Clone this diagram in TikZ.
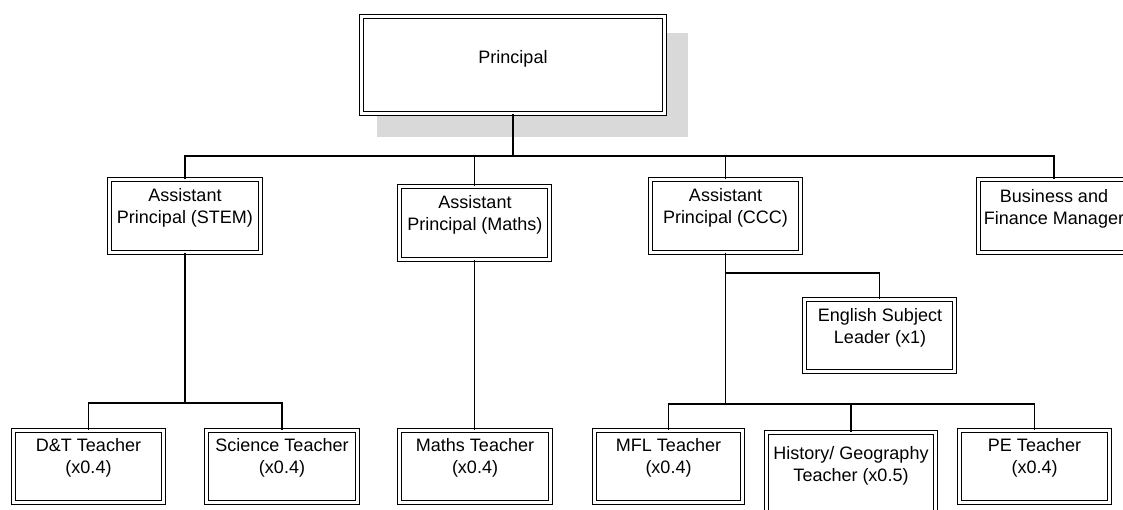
\documentclass[tikz,border=0pt]{standalone}
\usepackage{fontspec}
\setmainfont{Liberation Sans}
\begin{document}
\begin{tikzpicture}[x=1pt,y=-1pt,
  box/.style={draw=black, double=white, line width=1.2pt, double distance=2.6pt, fill=white, inner sep=0pt, minimum width=150pt, minimum height=72pt},
  txt/.style={anchor=north, inner sep=0pt, align=center, font=\fontsize{18}{22.5}\selectfont},
  conn/.style={draw=black, line width=1.9pt}]
\useasboundingbox (0,0) rectangle (1123,509);
\clip (0,0) rectangle (1123,509);
% shadow
\fill[black!15] (377,33) rectangle (688,137);
% boxes
\node[box, minimum width=303pt, minimum height=97pt] (prin) at (513,65) {};
\node[box, minimum width=151pt, minimum height=73pt] (stem) at (185,216) {};
\node[box, minimum width=150pt, minimum height=73pt] (apm) at (474.5,223) {};
\node[box, minimum width=150pt, minimum height=73pt] (ccc) at (725.5,216) {};
\node[box, minimum width=151pt, minimum height=73pt] (bfm) at (1054,216) {};
\node[box] (eng) at (879.5,335.5) {};
\node[box] (dt) at (88.5,466.5) {};
\node[box, minimum width=151pt] (sci) at (282,466.5) {};
\node[box, minimum width=151pt] (mt) at (475,466.5) {};
\node[box, minimum width=148pt] (mfl) at (668.5,466.5) {};
\node[box, minimum width=169pt, minimum height=85pt] (hist) at (851,475) {};
\node[box] (pe) at (1034.5,466.5) {};
% texts
\node[txt] (prin-t) at (513,50) {Principal};
\node[txt] (stem-t) at (185,188) {Assistant\\Principal (STEM)};
\node[txt] (apm-t) at (475,195) {Assistant\\Principal (Maths)};
\node[txt] (ccc-t) at (725.5,188) {Assistant\\Principal (CCC)};
\node[txt] (bfm-t) at (1054,189) {Business and\\Finance Manager};
\node[txt] (eng-t) at (880,308) {English Subject\\Leader (x1)};
\node[txt] (dt-t) at (88.5,438) {D\&T Teacher\\(x0.4)};
\node[txt] (sci-t) at (282,438) {Science Teacher\\(x0.4)};
\node[txt] (mt-t) at (475,438) {Maths Teacher\\(x0.4)};
\node[txt] (mfl-t) at (668.5,438) {MFL Teacher\\(x0.4)};
\node[txt] (hist-t) at (851,446) {History/ Geography\\Teacher (x0.5)};
\node[txt] (pe-t) at (1034.5,438) {PE Teacher\\(x0.4)};
% junctions
\coordinate (j0) at (513,156);
\coordinate (j1) at (185,403);
\coordinate (j2) at (725.5,404);
\coordinate (j3) at (725.5,273);
% connectors
\draw[conn] (prin.south) -- (j0);
\draw[conn] (stem.north) |- (j0) -| (bfm.north);
\draw[conn] (apm.north) -- (apm.north |- j0);
\draw[conn] (ccc.north) -- (ccc.north |- j0);
\draw[conn] (stem.south) -- (j1);
\draw[conn] (dt.north) |- (j1) -| (sci.north);
\draw[conn] (apm.south) -- (apm.south |- mt.north);
\draw[conn] (ccc.south) -- (j2);
\draw[conn] (j3) -| (eng.north);
\draw[conn] (mfl.north) |- (j2) -| (pe.north);
\draw[conn] (hist.north) -- (hist.north |- j2);
\end{tikzpicture}
\end{document}
